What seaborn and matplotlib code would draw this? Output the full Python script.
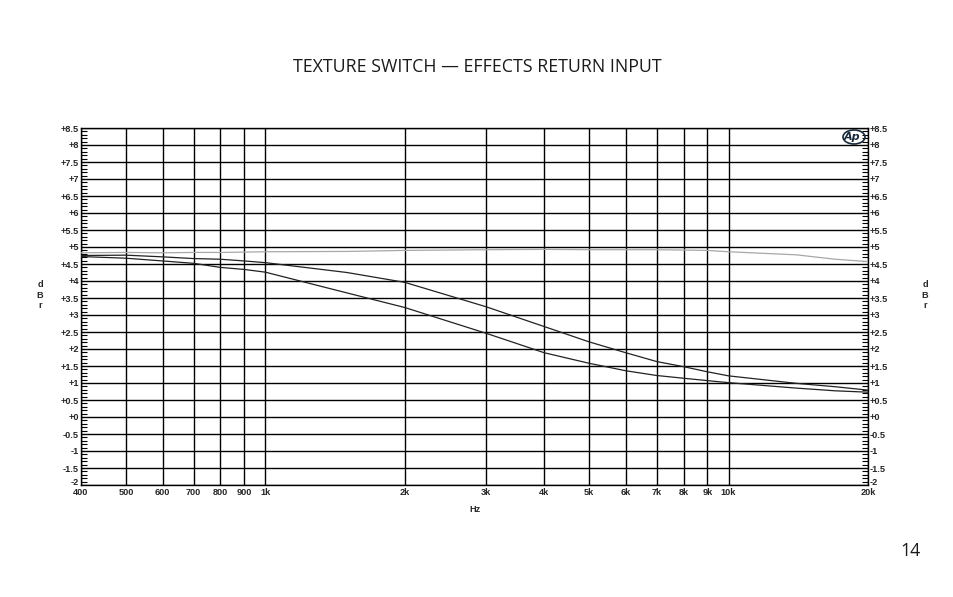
import numpy as np
import pandas as pd
import matplotlib
matplotlib.use("Agg")
import matplotlib.pyplot as plt
import seaborn as sns
from matplotlib.ticker import FixedLocator, NullFormatter
from matplotlib.patches import Ellipse
from matplotlib.font_manager import FontProperties
from matplotlib.transforms import ScaledTranslation

# ---- data ----
freq = [400, 500, 600, 700, 800, 900, 1000, 1500, 2000, 3000, 4000, 5000,
        6000, 7000, 8000, 9000, 10000, 14000, 17000, 20000]
flat_db = [4.83, 4.84, 4.83, 4.84, 4.84, 4.85, 4.86, 4.87, 4.90, 4.92, 4.93, 4.92,
           4.92, 4.92, 4.91, 4.90, 4.86, 4.77, 4.64, 4.57]
mid_db = [4.75, 4.76, 4.71, 4.66, 4.64, 4.59, 4.54, 4.25, 3.96, 3.24, 2.66, 2.21,
          1.89, 1.63, 1.48, 1.33, 1.21, 0.99, 0.89, 0.79]
low_db = [4.72, 4.67, 4.59, 4.52, 4.40, 4.34, 4.26, 3.65, 3.22, 2.46, 1.89, 1.58,
          1.36, 1.22, 1.14, 1.07, 1.01, 0.85, 0.77, 0.73]

x_ticks = [400, 500, 600, 700, 800, 900, 1000, 2000, 3000, 4000, 5000, 6000,
           7000, 8000, 9000, 10000, 20000]
x_labels = ["400", "500", "600", "700", "800", "900", "1k", "2k", "3k", "4k", "5k",
            "6k", "7k", "8k", "9k", "10k", "20k"]
y_ticks = [8.5, 8, 7.5, 7, 6.5, 6, 5.5, 5, 4.5, 4, 3.5, 3, 2.5, 2, 1.5, 1, 0.5, 0,
           -0.5, -1, -1.5, -2]
y_labels = ["+8.5", "+8", "+7.5", "+7", "+6.5", "+6", "+5.5", "+5", "+4.5", "+4",
            "+3.5", "+3", "+2.5", "+2", "+1.5", "+1", "+0.5", "+0", "-0.5", "-1",
            "-1.5", "-2"]

title = "TEXTURE SWITCH \u2014 EFFECTS RETURN INPUT"

df = pd.DataFrame({
    "freq": freq * 3,
    "db": flat_db + mid_db + low_db,
    "curve": ["flat"] * len(freq) + ["mid"] * len(freq) + ["low"] * len(freq),
})

sns.set_style("white")
fig = plt.figure(figsize=(9.54, 5.97), dpi=100)
ax = fig.add_axes([81 / 954, 1 - 485 / 597, (868 - 81) / 954, (485 - 128) / 597])

sns.lineplot(data=df, x="freq", y="db", hue="curve",
             palette={"flat": "#a8a8a8", "mid": "#222222", "low": "#222222"},
             linewidth=0.9, legend=False, ax=ax, zorder=3)

ax.set_xscale("log")
ax.set_xlim(400, 20000)
ax.set_ylim(-2, 8.5)

# grid
for yt in y_ticks:
    ax.axhline(yt, color="black", lw=1.0, zorder=1)
for xt in x_ticks:
    ax.axvline(xt, color="black", lw=1.0, zorder=1)

ax.xaxis.set_major_locator(FixedLocator(x_ticks))
ax.set_xticklabels(x_labels)
ax.xaxis.set_minor_locator(FixedLocator([]))
ax.xaxis.set_minor_formatter(NullFormatter())
ax.yaxis.set_major_locator(FixedLocator(y_ticks))
ax.set_yticklabels(y_labels)
ax.yaxis.set_minor_locator(FixedLocator(np.round(np.arange(-2, 8.51, 0.1), 2)))

lbl_font = dict(family="Liberation Sans", weight="bold", size=6.6)
fp = FontProperties(**lbl_font)

ax.tick_params(axis="x", which="both", length=0, pad=2.5)
ax.tick_params(axis="y", which="major", length=0, pad=1.5, left=True, right=True,
               labelleft=True, labelright=True)
ax.tick_params(axis="y", which="minor", direction="in", length=4, width=0.8,
               left=True, right=True, color="black")
for tk in ax.xaxis.get_major_ticks():
    tk.label1.set_fontproperties(fp)
for tk in ax.yaxis.get_major_ticks():
    tk.label1.set_fontproperties(fp)
    tk.label2.set_fontproperties(fp)

# lift the bottom "-2" labels a little so they sit above the x labels
up = ScaledTranslation(0, 3.5 / 100, fig.dpi_scale_trans)
last = ax.yaxis.get_major_ticks()[-1]
for lab in (last.label1, last.label2):
    lab.set_transform(lab.get_transform() + up)

for s in ax.spines.values():
    s.set_color("black")
    s.set_linewidth(1.0)

ax.set_xlabel("")
ax.set_ylabel("")

# Hz and dBr labels
fig.text(474.5 / 954, 1 - 509 / 597, "Hz", ha="center", va="center", fontproperties=fp)
for xpos in (40, 925):
    fig.text(xpos / 954, 1 - 295 / 597, "d\nB\nr", ha="center", va="center",
             linespacing=1.15, fontproperties=fp)

# title and page number
fig.text(477 / 954, 1 - 67 / 597, title, ha="center", va="center",
         family="Open Sans", fontsize=12.8, color="#1a1a1a")
fig.text(910 / 954, 1 - 551 / 597, "14", ha="center", va="center",
         family="Open Sans", fontsize=12.8, color="#1a1a1a")

# AP logo
fig.add_artist(Ellipse((854 / 954, 1 - 137 / 597), 22 / 954, 14 / 597,
                       transform=fig.transFigure, fill=False, lw=1.2,
                       edgecolor="#1a2a3a", zorder=5))
fig.text(852 / 954, 1 - 137 / 597, "Ap", ha="center", va="center",
         family="DejaVu Sans", weight="bold", style="italic", fontsize=8,
         color="#1a2a3a")

fig.savefig("out.png", dpi=100, facecolor="white")
